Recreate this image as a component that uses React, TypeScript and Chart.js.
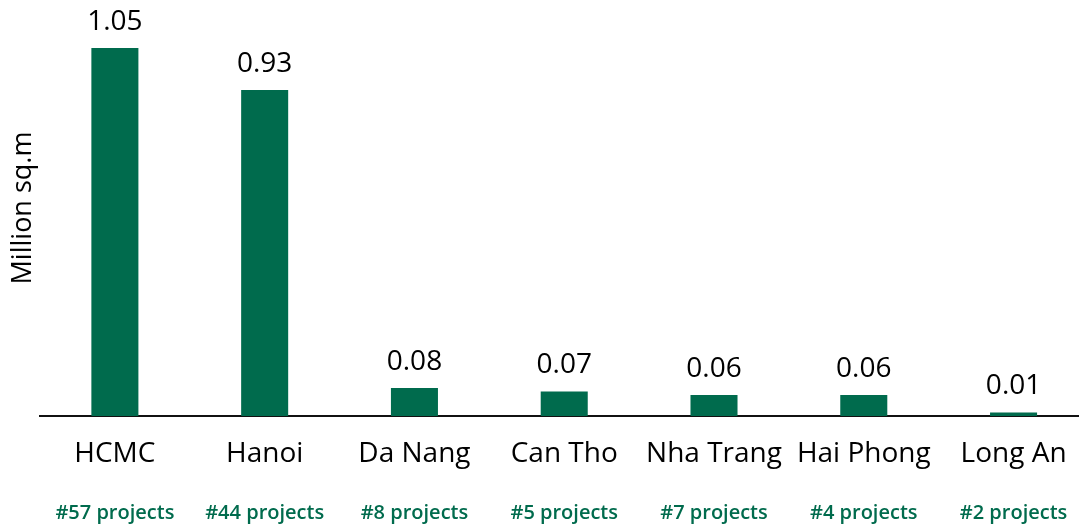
import React, { useEffect, useRef } from "react";
import { Chart, registerables } from "chart.js";

Chart.register(...registerables);

const cities = ["HCMC", "Hanoi", "Da Nang", "Can Tho", "Nha Trang", "Hai Phong", "Long An"];
const supply = [1.05, 0.93, 0.08, 0.07, 0.06, 0.06, 0.01];
const projects = ["#57 projects", "#44 projects", "#8 projects", "#5 projects", "#7 projects", "#4 projects", "#2 projects"];

const GREEN = "#006b4d";
const FONT = "'Open Sans', Lato, sans-serif";

const valueLabels = {
  id: "valueLabels",
  afterDatasetsDraw(chart: any) {
    const ctx = chart.ctx;
    const meta = chart.getDatasetMeta(0);
    ctx.save();
    ctx.font = `28px ${FONT}`;
    ctx.fillStyle = "#000";
    ctx.textAlign = "center";
    ctx.textBaseline = "alphabetic";
    meta.data.forEach((bar: any, i: number) => {
      ctx.fillText(supply[i].toFixed(2), bar.x, bar.y - 18);
    });
    ctx.restore();
  },
};

export default function App() {
  const ref = useRef<HTMLCanvasElement>(null);
  useEffect(() => {
    const chart = new Chart(ref.current!, {
      type: "bar",
      data: {
        labels: cities,
        datasets: [
          {
            data: supply,
            backgroundColor: GREEN,
            barPercentage: 0.314,
            categoryPercentage: 1,
          },
        ],
      },
      options: {
        responsive: false,
        animation: false,
        layout: { padding: { top: 0, right: 3, bottom: 0, left: 0 } },
        plugins: { legend: { display: false }, tooltip: { enabled: false } },
        scales: {
          x: {
            position: "bottom",
            grid: { display: false, drawTicks: false },
            border: { display: true, color: "#111", width: 2 },
            ticks: { color: "#000", font: { family: FONT, size: 28 }, padding: 21, maxRotation: 0, autoSkip: false },
            afterFit(scale: any) {
              scale.height = 55;
            },
          },
          x2: {
            type: "category",
            position: "bottom",
            labels: projects,
            grid: { display: false, drawTicks: false },
            border: { display: false },
            ticks: { color: GREEN, font: { family: FONT, size: 20, weight: "600" }, padding: 30, maxRotation: 0, autoSkip: false },
            afterFit(scale: any) {
              scale.height = 54;
            },
          },
          y: {
            min: 0,
            max: 1.187,
            grid: { display: false, drawTicks: false },
            border: { display: false },
            ticks: { display: false },
            title: {
              display: true,
              text: "Million sq.m",
              color: "#000",
              font: { family: FONT, size: 27 },
              padding: { top: 7, bottom: 4 },
            },
            afterFit(scale: any) {
              scale.width = 40;
            },
          },
        },
      },
      plugins: [valueLabels],
    });
    return () => chart.destroy();
  }, []);
  return (
    <div style={{ position: "fixed", left: 0, top: 0, width: 1079, height: 525, overflow: "hidden", background: "#fff" }}>
      <canvas ref={ref} width={1098} height={525} style={{ display: "block" }} />
    </div>
  );
}
